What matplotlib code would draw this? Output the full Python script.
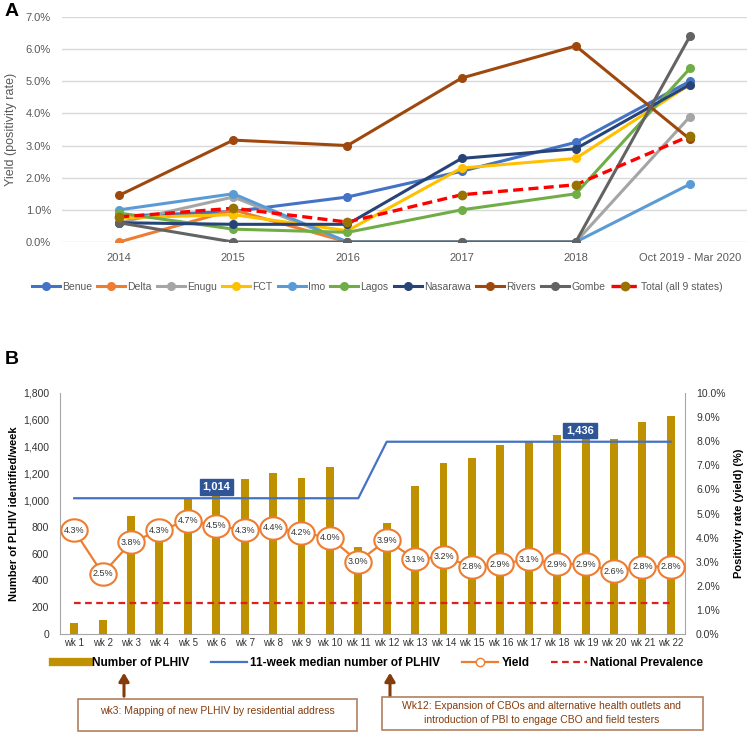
import numpy as np
import matplotlib
matplotlib.use("Agg")
import matplotlib.pyplot as plt
from matplotlib.lines import Line2D
from matplotlib.patches import Rectangle, FancyArrowPatch
from matplotlib.path import Path
from matplotlib.ticker import FuncFormatter

W, H = 753, 743
def fx(x): return x / W
def fy(y): return 1 - y / H

# ---------------- Panel A data ----------------
years = ["2014", "2015", "2016", "2017", "2018", "Oct 2019 - Mar 2020"]
benue = [0.80, 0.95, 1.40, 2.20, 3.10, 5.00]
delta = [0.00, 1.00, 0.00, np.nan, np.nan, np.nan]
enugu = [0.60, 1.40, 0.00, 0.00, 0.00, 3.90]
fct = [0.75, 0.85, 0.35, 2.30, 2.60, 4.90]
imo = [1.00, 1.50, 0.00, 0.00, 0.00, 1.80]
lagos = [0.90, 0.40, 0.30, 1.00, 1.50, 5.40]
nasarawa = [0.60, 0.55, 0.55, 2.60, 2.90, 4.90]
rivers = [1.45, 3.17, 3.00, 5.10, 6.10, 3.20]
gombe = [0.60, 0.00, 0.00, 0.00, 0.00, 6.40]
total = [0.78, 1.05, 0.62, 1.47, 1.78, 3.30]

series_a = [
    ("Benue", benue, "#4472C4"),
    ("Delta", delta, "#ED7D31"),
    ("Enugu", enugu, "#A5A5A5"),
    ("FCT", fct, "#FFC000"),
    ("Imo", imo, "#5B9BD5"),
    ("Lagos", lagos, "#70AD47"),
    ("Nasarawa", nasarawa, "#264478"),
    ("Rivers", rivers, "#9E480E"),
    ("Gombe", gombe, "#636363"),
]

# ---------------- Panel B data ----------------
weeks = [f"wk {i}" for i in range(1, 23)]
plhiv = [85, 105, 880, 720, 1010, 1040, 1155, 1205, 1165, 1250, 650,
         830, 1105, 1280, 1315, 1410, 1440, 1485, 1470, 1460, 1580, 1630]
median_plhiv = [1014] * 11 + [1436] * 11
yield_pct = [4.3, 2.5, 3.8, 4.3, 4.7, 4.5, 4.3, 4.4, 4.2, 4.0, 3.0,
             3.9, 3.1, 3.2, 2.8, 2.9, 3.1, 2.9, 2.9, 2.6, 2.8, 2.8]
national_prev = 1.3

fig = plt.figure(figsize=(W / 100, H / 100), dpi=100)
narrow = ["Liberation Sans Narrow", "Liberation Sans", "DejaVu Sans"]
arial = ["Liberation Sans", "DejaVu Sans"]

# ================= Panel A =================
axA = fig.add_axes([fx(62), fy(242), fx(747) - fx(62), fy(17) - fy(242)])
xa = np.arange(len(years))
for name, vals, col in series_a:
    axA.plot(xa, vals, color=col, lw=2.2, marker="o", ms=5.5, label=name, zorder=3)
axA.plot(xa, total, color="#FF0000", lw=2.4, ls=(0, (3, 1.6)), marker="o", ms=6,
         mfc="#997300", mec="#997300", label="Total (all 9 states)", zorder=4)
axA.set_xlim(-0.5, 5.5)
axA.set_ylim(0, 7.0)
axA.set_yticks(np.arange(0, 7.01, 1.0))
axA.yaxis.set_major_formatter(FuncFormatter(lambda v, p: f"{v:.1f}%"))
axA.set_xticks(xa)
axA.set_xticklabels(years)
axA.grid(axis="y", color="#D9D9D9", lw=1)
axA.set_axisbelow(True)
for s in axA.spines.values():
    s.set_visible(False)
axA.tick_params(length=0, labelsize=8, colors="#595959", pad=8)
for lab in axA.get_xticklabels() + axA.get_yticklabels():
    lab.set_family(narrow)
axA.set_ylabel("Yield (positivity rate)", fontsize=9, color="#595959", family=narrow, labelpad=6)
axA.legend(loc="center", bbox_to_anchor=(fx(377), fy(287)), bbox_transform=fig.transFigure,
           ncol=10, frameon=False, prop={"family": narrow, "size": 7.5}, handlelength=2.7,
           columnspacing=0.5, handletextpad=0.2, labelcolor="#595959")
fig.text(fx(5), fy(11), "A", fontsize=14, fontweight="bold", family=arial, va="center")

# ================= Panel B =================
axB = fig.add_axes([fx(60), fy(634), fx(685) - fx(60), fy(393) - fy(634)])
xb = np.arange(len(weeks))
axB.bar(xb, plhiv, width=0.28, color="#BF9000", zorder=2)
axB.plot(xb, median_plhiv, color="#4472C4", lw=1.6, zorder=3)
axB.set_xlim(-0.5, 21.5)
axB.set_ylim(0, 1800)
axB.set_yticks(np.arange(0, 1801, 200))
axB.yaxis.set_major_formatter(FuncFormatter(lambda v, p: f"{int(v):,}"))
axB.set_xticks(xb)
axB.set_xticklabels(weeks)
axB.tick_params(axis="y", length=0, labelsize=7.5, colors="#333333", pad=8)
axB.tick_params(axis="x", length=0, labelsize=7, colors="#333333", pad=3)
axB.spines["top"].set_visible(False)
axB.spines["right"].set_visible(False)
for s in ["left", "bottom"]:
    axB.spines[s].set_color("#A6A6A6")
for lab in axB.get_xticklabels() + axB.get_yticklabels():
    lab.set_family(arial)
axB.set_ylabel("Number of PLHIV identified/week", fontsize=8, fontweight="bold",
               family=arial, labelpad=3)

for idx, val in [(5, 1014), (17.8, 1436)]:
    axB.text(idx, val + 85, f"{val:,}", ha="center", va="center", fontsize=8,
             fontweight="bold", color="white", family=arial, zorder=6,
             bbox=dict(boxstyle="square,pad=0.25", fc="#2F5597", ec="#2F5597"))

axR = axB.twinx()
axR.set_ylim(0, 10)
axR.set_yticks(np.arange(0, 10.01, 1))
axR.yaxis.set_major_formatter(FuncFormatter(lambda v, p: f"{v:.1f}%"))
axR.tick_params(axis="y", length=0, labelsize=7.5, colors="#333333", pad=8)
for s in ["top", "left", "bottom"]:
    axR.spines[s].set_visible(False)
axR.spines["right"].set_color("#A6A6A6")
for lab in axR.get_yticklabels():
    lab.set_family(arial)
axR.set_ylabel("Positivity rate (yield) (%)", fontsize=8, fontweight="bold",
               family=arial, labelpad=6)
axR.plot(xb, [national_prev] * len(xb), color="#E02020", lw=1.6, ls=(0, (3, 2)), zorder=3)
axR.plot(xb, yield_pct, color="#ED7D31", lw=1.6, zorder=4)
t = np.linspace(0, 2 * np.pi, 60)
ellipse = Path(np.column_stack([1.18 * np.cos(t), np.sin(t)]), closed=True)
axR.plot(xb, yield_pct, ls="none", marker=ellipse, ms=19, mfc="white", mec="#ED7D31",
         mew=1.5, zorder=5)
for i, v in enumerate(yield_pct):
    axR.text(i, v, f"{v:.1f}%", ha="center", va="center", fontsize=6.5, color="#333333",
             family=arial, zorder=6)

fig.text(fx(5), fy(360), "B", fontsize=14, fontweight="bold", family=arial, va="center")

# legend B
handles = [
    Line2D([], [], color="#BF9000", lw=6),
    Line2D([], [], color="#4472C4", lw=1.6),
    Line2D([], [], color="#ED7D31", lw=1.6, marker="o", ms=6, mfc="white", mec="#ED7D31"),
    Line2D([], [], color="#E02020", lw=1.6, ls=(0, (3, 2))),
]
labels = ["Number of PLHIV", "11-week median number of PLHIV", "Yield", "National Prevalence"]
fig.legend(handles, labels, loc="center", bbox_to_anchor=(fx(378), fy(663)), ncol=4,
           frameon=False, prop={"family": arial, "size": 8.6, "weight": "bold"},
           handlelength=3.0, columnspacing=1.8, handletextpad=0.3)

# annotations
for xp in [124, 390]:
    fig.patches.append(FancyArrowPatch(
        (fx(xp), fy(699)), (fx(xp), fy(670)), transform=fig.transFigure,
        arrowstyle="-|>,head_width=3,head_length=5", color="#843C0C", lw=2.2))

for (x0, y0, x1, y1) in [(78, 699, 357, 731), (382, 697, 703, 730)]:
    fig.patches.append(Rectangle((fx(x0), fy(y1)), fx(x1) - fx(x0), fy(y0) - fy(y1),
                                 transform=fig.transFigure, fc="white", ec="#B08060", lw=1.2))

fig.text(fx(217), fy(711), "wk3: Mapping of new PLHIV by residential address",
         ha="center", va="center", fontsize=7.5, color="#843C0C", family=arial)
fig.text(fx(542), fy(713), "Wk12: Expansion of CBOs and alternative health outlets and\n"
         "introduction of PBI to engage CBO and field testers",
         ha="center", va="center", fontsize=7.5, color="#843C0C", family=arial,
         linespacing=1.4)

fig.savefig("out.png", dpi=100)
